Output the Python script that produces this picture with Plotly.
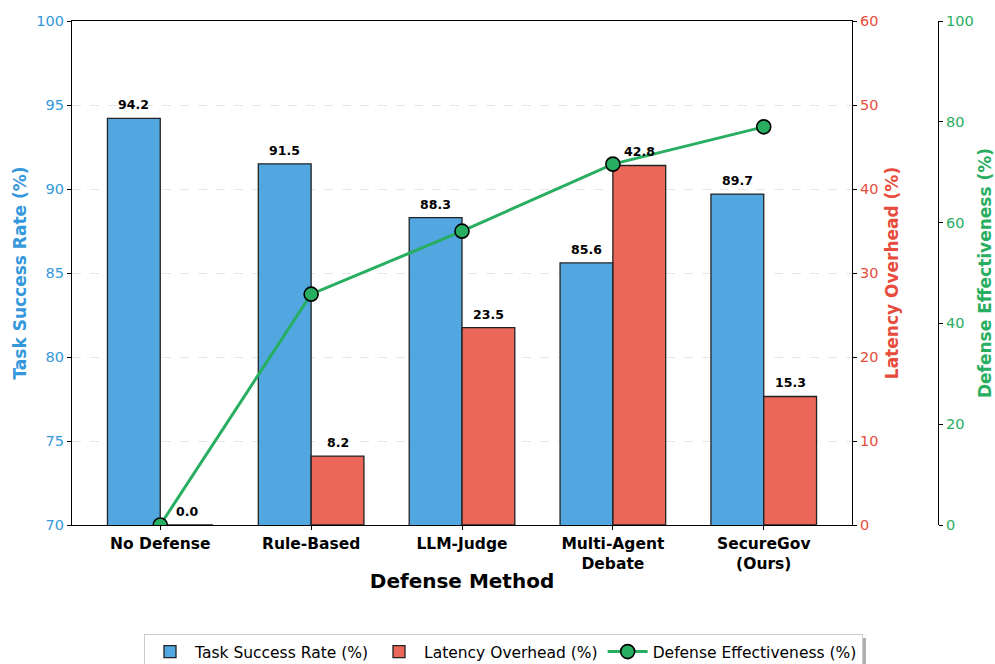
import plotly.graph_objects as go

methods = ["No Defense", "Rule-Based", "LLM-Judge", "Multi-Agent<br>Debate", "SecureGov<br>(Ours)"]
task_success = [94.2, 91.5, 88.3, 85.6, 89.7]
latency_overhead = [0.0, 8.2, 23.5, 42.8, 15.3]
defense_effectiveness = [0.0, 45.8, 58.3, 71.6, 79.0]

BLUE = "#3498db"
RED = "#e74c3c"
GREEN = "#27ae60"
BLUE_FILL = "rgba(52,152,219,0.85)"
RED_FILL = "rgba(231,76,60,0.85)"
FONT = "DejaVu Sans"
W = 0.35

xs = list(range(len(methods)))

# plot area: left 72 px, right edge 852 px; third spine at 938 px
L, R_EDGE, SPINE3, WIDTH, HEIGHT, T, B = 72, 852, 938, 995, 664, 21, 139
PAPER_W = WIDTH - L
PAPER_H = HEIGHT - T - B

fig = go.Figure()
fig.add_trace(go.Bar(
    x=xs, y=task_success, width=W, offset=-W, name="Task Success Rate (%)",
    marker=dict(color=BLUE_FILL, line=dict(color="#222222", width=1.3)),
    yaxis="y",
))
fig.add_trace(go.Bar(
    x=xs, y=latency_overhead, width=W, offset=0, name="Latency Overhead (%)",
    marker=dict(color=RED_FILL, line=dict(color="#222222", width=1.3)),
    yaxis="y2",
))
fig.add_trace(go.Scatter(
    x=xs, y=defense_effectiveness, mode="lines+markers", name="Defense Effectiveness (%)",
    line=dict(color=GREEN, width=3),
    marker=dict(size=14, color=GREEN, line=dict(color="black", width=1.6)),
    yaxis="y3",
))

annotations = []
for i, v in enumerate(task_success):
    annotations.append(dict(x=i - W / 2, y=v, xref="x", yref="y", text=f"<b>{v:.1f}</b>",
                            showarrow=False, yanchor="bottom", yshift=4,
                            font=dict(size=12.5, color="black", family=FONT)))
for i, v in enumerate(latency_overhead):
    annotations.append(dict(x=i + W / 2, y=v, xref="x", yref="y2", text=f"<b>{v:.1f}</b>",
                            showarrow=False, yanchor="bottom", yshift=4,
                            font=dict(size=12.5, color="black", family=FONT)))

TICK = 14.5
TITLE = 17

fig.update_layout(
    width=WIDTH, height=HEIGHT,
    margin=dict(l=L, r=0, t=T, b=B, autoexpand=False),
    plot_bgcolor="white", paper_bgcolor="white",
    font=dict(family=FONT, size=13, color="black"),
    barmode="overlay",
    showlegend=True,
    legend=dict(orientation="h", x=503.5 / WIDTH, xanchor="center", xref="container",
                y=1 - 634 / HEIGHT, yanchor="top", yref="container",
                bordercolor="#cccccc", borderwidth=1, bgcolor="white",
                font=dict(size=15.5, family=FONT), itemwidth=40, tracegroupgap=0),
    xaxis=dict(
        domain=[0, (R_EDGE - L) / PAPER_W],
        range=[-0.585, 4.585], tickmode="array", tickvals=xs,
        ticktext=[f"<b>{m}</b>" for m in methods],
        tickfont=dict(size=15.5, color="black", family=FONT),
        showline=True, linecolor="black", linewidth=1.3, mirror=True,
        ticks="outside", ticklen=4, tickcolor="black", showgrid=False, zeroline=False,
        automargin=False,
        title=dict(text="<b>Defense Method</b>", font=dict(size=20, family=FONT), standoff=2),
    ),
    yaxis=dict(
        range=[70, 100], dtick=5, tickfont=dict(color=BLUE, size=TICK),
        title=dict(text="<b>Task Success Rate (%)</b>", font=dict(color=BLUE, size=TITLE), standoff=5),
        showline=True, linecolor="black", linewidth=1.3, automargin=False,
        ticks="outside", ticklen=4, tickcolor="black",
        showgrid=True, gridcolor="rgba(200,200,200,0.45)", griddash="dash", gridwidth=1,
        zeroline=False,
    ),
    yaxis2=dict(
        range=[0, 60], dtick=10, overlaying="y", side="right", anchor="x",
        tickfont=dict(color=RED, size=TICK),
        title=dict(text="<b>Latency Overhead (%)</b>", font=dict(color=RED, size=TITLE), standoff=8),
        showline=True, linecolor="black", linewidth=1.3, automargin=False,
        ticks="outside", ticklen=4, tickcolor="black", showgrid=False, zeroline=False,
    ),
    yaxis3=dict(
        range=[0, 100], dtick=20, overlaying="y", side="right", anchor="free",
        position=(SPINE3 - L) / PAPER_W,
        tickfont=dict(color=GREEN, size=TICK),
        title=dict(text="<b>Defense Effectiveness (%)</b>", font=dict(color=GREEN, size=TITLE), standoff=6),
        showline=True, linecolor="black", linewidth=1.3, automargin=False,
        ticks="outside", ticklen=4, tickcolor="black", showgrid=False, zeroline=False,
    ),
    annotations=annotations,
)

# soft drop shadow offset behind the legend box
fig.add_shape(type="rect", xref="paper", yref="paper",
              x0=(149 - L) / PAPER_W, x1=(866 - L) / PAPER_W,
              y0=(HEIGHT - B - 672) / PAPER_H, y1=(HEIGHT - B - 638) / PAPER_H,
              fillcolor="rgba(110,110,110,0.55)", line=dict(width=0), layer="above")

fig.write_html("out.html")
